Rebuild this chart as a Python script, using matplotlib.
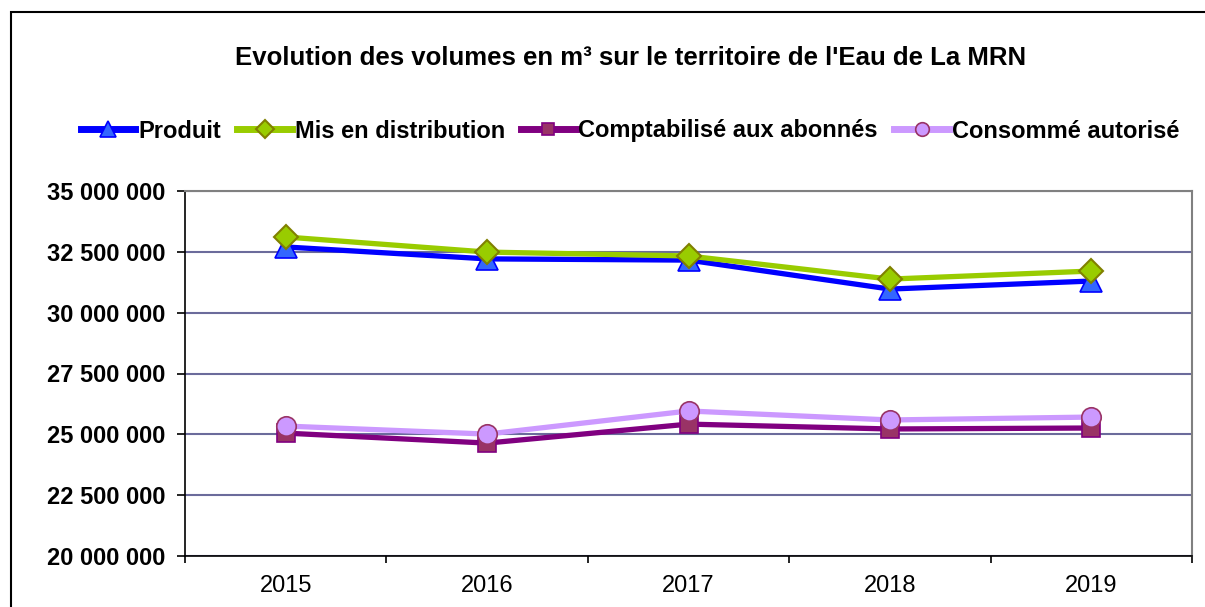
import numpy as np
import matplotlib.pyplot as plt
from matplotlib.patches import Rectangle

plt.rcParams['font.family'] = ['Liberation Sans', 'DejaVu Sans']

# data (m3)
years = ['2015', '2016', '2017', '2018', '2019']
produit = [32700000, 32210000, 32160000, 30970000, 31300000]
mis_en_distrib = [33110000, 32490000, 32330000, 31380000, 31710000]
comptabilise = [25050000, 24640000, 25420000, 25220000, 25260000]
consomme = [25340000, 25010000, 25960000, 25590000, 25710000]

fig = plt.figure(figsize=(12.05, 6.07), dpi=100)
ax = fig.add_axes([185/1205, 1 - 556/607, (1192 - 185)/1205, (556 - 191)/607])

# outer chart frame
fig.patches.append(Rectangle((11/1205, -0.1), 1.2, 1 - 12/607 + 0.1,
                             transform=fig.transFigure, fill=False,
                             edgecolor='black', linewidth=1.5))

x = np.arange(len(years))
lw = 3.8
ax.plot(x, produit, color='#0000FF', lw=lw, marker='^', ms=16,
        mfc='#3366FF', mec='#0000FF', mew=1.2, label='Produit', zorder=3)
ax.plot(x, mis_en_distrib, color='#99CC00', lw=lw, marker='D', ms=12.5,
        mfc='#99CC00', mec='#808000', mew=1.5, label='Mis en distribution', zorder=4)
ax.plot(x, comptabilise, color='#800080', lw=lw, marker='s', ms=13,
        mfc='#993366', mec='#800080', mew=1.2, label='Comptabilisé aux abonnés', zorder=5)
ax.plot(x, consomme, color='#CC99FF', lw=lw, marker='o', ms=14,
        mfc='#CC99FF', mec='#993366', mew=1.2, label='Consommé autorisé', zorder=6)

ax.set_xlim(-0.5, len(years) - 0.5)
ax.set_ylim(20000000, 35000000)
yt = np.arange(20000000, 35000001, 2500000)
ax.set_yticks(yt)
ax.set_yticklabels(['{:,}'.format(v).replace(',', ' ') for v in yt],
                   fontsize=17, fontweight='bold')
ax.set_xticks(x)
ax.set_xticklabels(years, fontsize=17)
ax.set_xticks(np.arange(-0.5, len(years)), minor=True)
ax.tick_params(axis='x', which='major', length=0, pad=14)
ax.tick_params(axis='x', which='minor', length=5, width=1.2, direction='out')
ax.tick_params(axis='y', length=6, width=1.2, direction='out', pad=8)

ax.grid(axis='y', color='#6B6B9B', lw=1.5)
ax.set_axisbelow(True)
for s in ['top', 'right']:
    ax.spines[s].set_color('#808080')
    ax.spines[s].set_linewidth(1.5)
for s in ['left', 'bottom']:
    ax.spines[s].set_color('black')
    ax.spines[s].set_linewidth(1.2)

fig.text(631/1205, 1 - 58/607, "Evolution des volumes en m³ sur le territoire de l'Eau de La MRN",
         ha='center', va='center', fontsize=18.5, fontweight='bold')

leg = fig.legend(loc='center', bbox_to_anchor=(630/1205, 1 - 131/607), ncol=4,
                 frameon=False, prop={'weight': 'bold', 'size': 17},
                 markerscale=0.7, handlelength=2.3, handletextpad=0.12,
                 columnspacing=0.7)
for h in leg.get_lines():
    h.set_linewidth(5)

fig.savefig('out.png', dpi=100)
